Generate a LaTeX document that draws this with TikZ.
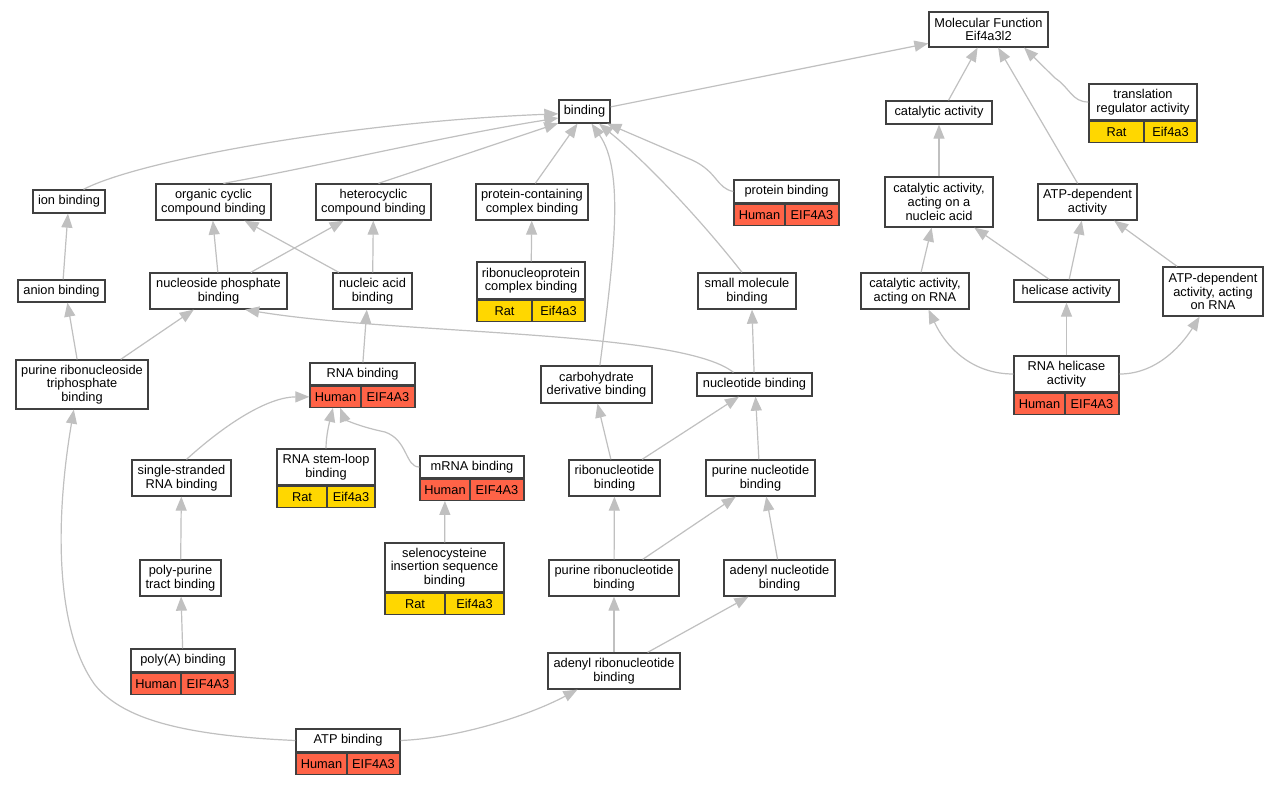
\documentclass[tikz,border=0pt]{standalone}
\usepackage{fontspec}
\setmainfont{Liberation Sans}
\usetikzlibrary{arrows.meta}

\definecolor{human}{RGB}{255,99,71}
\definecolor{rat}{RGB}{255,215,0}
\definecolor{edgegray}{RGB}{192,192,192}
\definecolor{boxgray}{RGB}{64,64,64}

\tikzset{
  term/.style={draw=boxgray,line width=1.3pt,fill=white,align=center,inner sep=0pt},
  cell/.style={draw=boxgray,line width=1.3pt,inner sep=0pt,minimum height=21},
  isa/.style={draw,color=edgegray,line width=1.2pt,-{Triangle[length=14pt,width=11pt]}}
}

% species and gene cells below an annotated term
\newcommand{\genecells}[5]{%
  \node[cell,fill=#5,minimum width=#2,anchor=north west] (#1-sp) at (#1.south west) {#3};
  \node[cell,fill=#5,minimum width=#4,anchor=north east] (#1-gn) at (#1.south east) {EIF4A3};}
\newcommand{\ratcells}[3]{%
  \node[cell,fill=rat,minimum width=#2,anchor=north west] (#1-sp) at (#1.south west) {Rat};
  \node[cell,fill=rat,minimum width=#3,anchor=north east] (#1-gn) at (#1.south east) {Eif4a3};}

\begin{document}
\begin{tikzpicture}[x=1pt,y=-1pt,font=\fontsize{12.8}{13.6}\selectfont]
  \useasboundingbox[fill=white] (0,0) rectangle (1279,784);

  % terms
  \node[term,minimum width=119,minimum height=35] (mf) at (988.5,29.5) {Molecular Function\\Eif4a3l2};
  \node[term,minimum width=51,minimum height=23] (bind) at (584.5,111.5) {binding};
  \node[term,minimum width=106,minimum height=23] (cat) at (939,112.5) {catalytic activity};
  \node[term,minimum width=108,minimum height=36] (trans) at (1143,102) {translation\\regulator activity};
  \node[term,minimum width=108,minimum height=50] (catna) at (939,202) {catalytic activity,\\acting on a\\nucleic acid};
  \node[term,minimum width=99,minimum height=36] (atpdep) at (1087.5,202) {ATP-dependent\\activity};
  \node[term,minimum width=72,minimum height=23] (ion) at (69,201.5) {ion binding};
  \node[term,minimum width=115,minimum height=36] (occ) at (213.5,202) {organic cyclic\\compound binding};
  \node[term,minimum width=115,minimum height=36] (het) at (373.5,202) {heterocyclic\\compound binding};
  \node[term,minimum width=112,minimum height=36] (pcc) at (532,202) {protein-containing\\complex binding};
  \node[term,minimum width=105,minimum height=23] (pb) at (786.5,191.5) {protein binding};
  \node[term,minimum width=87,minimum height=22] (anion) at (61.5,291) {anion binding};
  \node[term,minimum width=137,minimum height=36] (nsp) at (218.5,291) {nucleoside phosphate\\binding};
  \node[term,minimum width=79,minimum height=36] (nab) at (372.5,291) {nucleic acid\\binding};
  \node[term,minimum width=108,minimum height=37] (rnp) at (531,280.5) {ribonucleoprotein\\complex binding};
  \node[term,minimum width=98,minimum height=36] (smb) at (747,291) {small molecule\\binding};
  \node[term,minimum width=108,minimum height=36] (catrna) at (915,291) {catalytic activity,\\acting on RNA};
  \node[term,minimum width=105,minimum height=22] (hel) at (1066.5,291) {helicase activity};
  \node[term,minimum width=100,minimum height=49] (atprna) at (1213,291.5) {ATP-dependent\\activity, acting\\on RNA};
  \node[term,minimum width=132,minimum height=49] (prtp) at (82,384.5) {purine ribonucleoside\\triphosphate\\binding};
  \node[term,minimum width=105,minimum height=22] (rnab) at (362.5,374) {RNA binding};
  \node[term,minimum width=111,minimum height=37] (cdb) at (596.5,384.5) {carbohydrate\\derivative binding};
  \node[term,minimum width=115,minimum height=23] (ntb) at (754.5,384.5) {nucleotide binding};
  \node[term,minimum width=105,minimum height=36] (rnahel) at (1066.5,374) {RNA helicase\\activity};
  \node[term,minimum width=99,minimum height=36] (ssrna) at (181.5,478) {single-stranded\\RNA binding};
  \node[term,minimum width=98,minimum height=36] (stem) at (326,467) {RNA stem-loop\\binding};
  \node[term,minimum width=104,minimum height=22] (mrna) at (472,467) {mRNA binding};
  \node[term,minimum width=91,minimum height=36] (rnb) at (614.5,478) {ribonucleotide\\binding};
  \node[term,minimum width=109,minimum height=36] (pnb) at (760.5,478) {purine nucleotide\\binding};
  \node[term,minimum width=119,minimum height=49] (seci) at (444.5,567.5) {selenocysteine\\insertion sequence\\binding};
  \node[term,minimum width=81,minimum height=36] (ppt) at (180.5,578) {poly-purine\\tract binding};
  \node[term,minimum width=130,minimum height=36] (prnb) at (614,578) {purine ribonucleotide\\binding};
  \node[term,minimum width=111,minimum height=36] (anb) at (779.5,578) {adenyl nucleotide\\binding};
  \node[term,minimum width=104,minimum height=23] (polya) at (183,660.5) {poly(A) binding};
  \node[term,minimum width=132,minimum height=36] (arnb) at (614,671) {adenyl ribonucleotide\\binding};
  \node[term,minimum width=104,minimum height=23] (atp) at (348,740.5) {ATP binding};

  % annotations
  \ratcells{trans}{55}{53}
  \genecells{pb}{51}{Human}{54}{human}
  \ratcells{rnp}{55}{53}
  \genecells{rnab}{51}{Human}{54}{human}
  \ratcells{stem}{50}{48}
  \genecells{mrna}{50}{Human}{54}{human}
  \ratcells{seci}{60}{59}
  \genecells{polya}{50}{Human}{54}{human}
  \genecells{atp}{51}{Human}{53}{human}
  \genecells{rnahel}{51}{Human}{54}{human}

  % is_a edges
  \path[every edge/.style={isa}]
    (bind.10) edge (mf.193)
    (cat.52) edge (mf.239)
    (atpdep.118) edge (mf.298)
    (het.75) edge (bind.204)
    (pcc.80) edge (bind.240)
    (smb.105) edge[to path={.. controls (705,225) and (650,165) .. (\tikztotarget)}] (bind.320)
    (catna) edge (cat)
    (catrna.72) edge (catna.254)
    (hel.146) edge (catna.324)
    (hel.77) edge (atpdep.253)
    (atprna.145) edge (atpdep.325)
    (rnahel) edge (hel)
    (anion.82) edge (ion.265)
    (prtp.101) edge (anion.297)
    (prtp.33) edge (nsp.217)
    (nsp.92) edge (occ.268)
    (nsp.30) edge (het.212)
    (nab.151) edge (occ.329)
    (nab) edge (het)
    (rnab.88) edge (nab.253)
    (rnp) edge (pcc)
    (ntb.92) edge (smb.285)
    (rnb.101) edge (cdb.273)
    (rnb.34) edge (ntb.218)
    (pnb.95) edge (ntb.275)
    (prnb) edge (rnb)
    (prnb.33) edge (pnb.217)
    (anb.96) edge (pnb.287)
    (arnb) edge (prnb)
    (arnb.29) edge (anb.211)
    (ppt) edge (ssrna)
    (polya) edge (ppt)
    (seci) edge (mrna-sp);

  % curved edges
  \draw[isa] (trans.west) .. controls (1072,102) and (1070,88) .. (1055,78) -- (mf.333);
  \draw[isa] (ion.40) .. controls (140,160) and (350,122) .. (bind.185);
  \draw[isa] (occ.62) .. controls (310,168) and (450,135) .. (bind.194);
  \draw[isa] (cdb.80) .. controls (615,250) and (624,170) .. (bind.300);
  \draw[isa] (pb.west) .. controls (716,188) and (718,172) .. (692,160) -- (bind.332);
  \draw[isa] (ntb.150) .. controls (680,330) and (400,335) .. (nsp.-35);
  \draw[isa] (rnahel.west) .. controls (970,374) and (945,345) .. (catrna.306);
  \draw[isa] (rnahel.east) .. controls (1160,374) and (1185,340) .. (atprna.242);
  \draw[isa] (ssrna.75) .. controls (230,420) and (270,397) .. (rnab-sp.west);
  \draw[isa] (stem.north) .. controls (326,435) and (330,420) .. (rnab-sp.257);
  \draw[isa] (mrna.west) .. controls (405,467) and (408,440) .. (385,432) .. controls (352,425) and (344,418) .. (rnab-sp.293);
  \draw[isa] (atp.west) .. controls (170,735) and (120,715) .. (95,685) .. controls (55,630) and (55,520) .. (prtp.252);
  \draw[isa] (atp.east) .. controls (460,738) and (530,715) .. (arnb.207);
\end{tikzpicture}
\end{document}
